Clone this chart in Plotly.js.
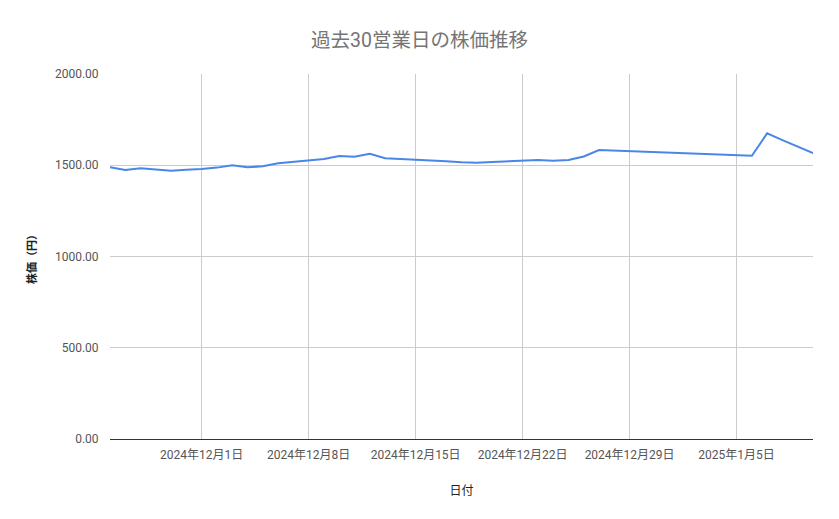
<!DOCTYPE html>
<html>
<head>
<meta charset="utf-8">
<script src="https://cdn.plot.ly/plotly-3.0.1.min.js"></script>
<style>
  html, body { margin: 0; padding: 0; background: #fff; }
  #chart { width: 839px; height: 519px; }
</style>
</head>
<body>
<div id="chart"></div>
<script>
"use strict";
// 日付と終値（円）
var dates = [
    "2024-11-25", "2024-11-26", "2024-11-27", "2024-11-28", "2024-11-29", "2024-11-30",
    "2024-12-01", "2024-12-02", "2024-12-03", "2024-12-04", "2024-12-05", "2024-12-06",
    "2024-12-07", "2024-12-08", "2024-12-09", "2024-12-10", "2024-12-11", "2024-12-12",
    "2024-12-13", "2024-12-14", "2024-12-15", "2024-12-16", "2024-12-17", "2024-12-18",
    "2024-12-19", "2024-12-20", "2024-12-21", "2024-12-22", "2024-12-23", "2024-12-24",
    "2024-12-25", "2024-12-26", "2024-12-27",
    "2025-01-06", "2025-01-07", "2025-01-08", "2025-01-09", "2025-01-10"
];
var prices = [
    1489, 1474, 1483, 1478, 1470, 1476,
    1479, 1487, 1500, 1489, 1494, 1511,
    1518, 1527, 1534, 1551, 1547, 1563,
    1538, 1534, 1531, 1527, 1522, 1517,
    1514, 1518, 1521, 1525, 1529, 1524,
    1529, 1548, 1583,
    1552, 1675, 1638, 1601, 1566
];
var tickDates = ["2024-12-01", "2024-12-08", "2024-12-15", "2024-12-22", "2024-12-29", "2025-01-05"];
var tickLabels = ["2024年12月1日", "2024年12月8日", "2024年12月15日", "2024年12月22日", "2024年12月29日", "2025年1月5日"];
var yTicks = [0, 500, 1000, 1500, 2000];

var font = "Roboto, 'Noto Sans CJK JP', sans-serif";

var trace = {
    x: dates,
    y: prices,
    type: "scatter",
    mode: "lines",
    line: { color: "#4a86e8", width: 2 },
    hoverinfo: "x+y"
};

var layout = {
    width: 839,
    height: 519,
    margin: { l: 110, r: 26, t: 74, b: 80 },
    paper_bgcolor: "#fff",
    plot_bgcolor: "#fff",
    showlegend: false,
    font: { family: font, size: 12, color: "#555" },
    title: {
        text: "過去30営業日の株価推移",
        font: { family: font, size: 19.5, color: "#757575" },
        x: 0.5, xref: "container", xanchor: "center", y: 0.923, yanchor: "middle"
    },
    xaxis: {
        type: "date",
        range: ["2024-11-25", "2025-01-10"],
        tickvals: tickDates,
        ticktext: tickLabels,
        showgrid: true,
        gridcolor: "#cccccc",
        gridwidth: 1,
        showline: false,
        zeroline: false,
        ticks: "outside",
        ticklen: 5,
        tickcolor: "#ffffff",
        tickfont: { family: font, size: 12, color: "#555" },
        title: { text: "日付", font: { family: font, size: 12, color: "#222" }, standoff: 25 }
    },
    yaxis: {
        range: [0, 2000],
        tickvals: yTicks,
        tickformat: ".2f",
        showgrid: true,
        gridcolor: "#cccccc",
        gridwidth: 1,
        zeroline: true,
        zerolinecolor: "#333",
        zerolinewidth: 1,
        showline: false,
        ticks: "outside",
        ticklen: 8,
        tickcolor: "#ffffff",
        tickfont: { family: font, size: 12, color: "#555" },
        title: { text: "<b>株価（円）</b>", font: { family: font, size: 11, color: "#222" }, standoff: 16 }
    }
};

Plotly.newPlot("chart", [trace], layout, { displayModeBar: false, staticPlot: true });
</script>
</body>
</html>
